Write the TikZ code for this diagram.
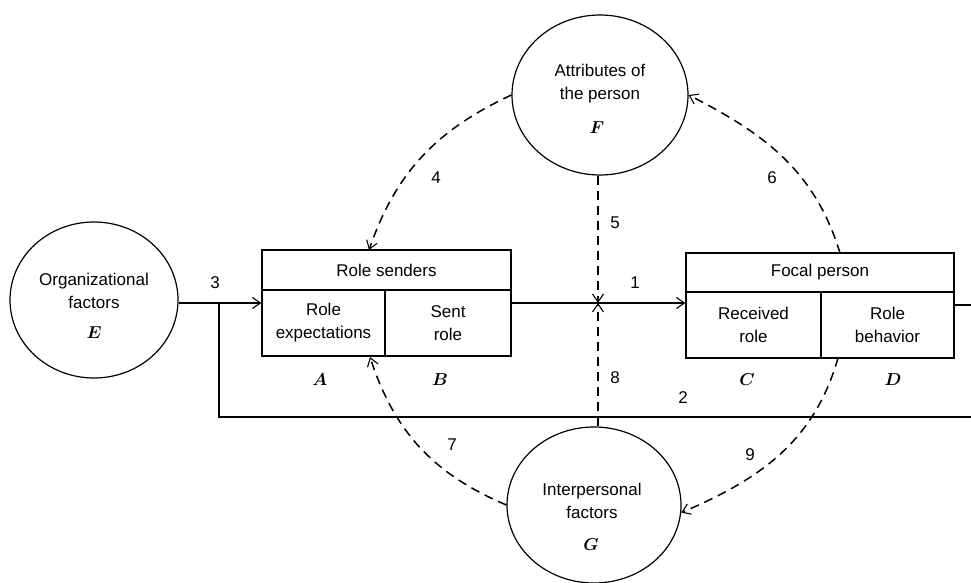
\documentclass[tikz,border=0pt]{standalone}
\usepackage{fontspec}
\setsansfont{Liberation Sans}
\usetikzlibrary{arrows.meta,shapes.geometric}
\begin{document}
\begin{tikzpicture}[x=1pt,y=1pt,
  every node/.style={font=\sffamily\fontsize{17}{23}\selectfont},
  bubble/.style={ellipse, draw, line width=1.2pt, inner sep=0pt},
  cell/.style={rectangle, draw, line width=1.2pt, inner sep=0pt, align=center},
  txt/.style={align=center, inner sep=0pt},
  letter/.style={inner sep=0pt, font=\fontsize{19}{20}\selectfont\boldmath},
  plain/.style={line width=1.4pt},
  arr/.style={line width=1.4pt, -{Straight Barb[length=8pt,width=11pt,line width=1.1pt]}},
  dsh/.style={arr, line width=1.5pt, dash pattern=on 9pt off 6pt},
]
\useasboundingbox (0,0) rectangle (971,-583);

% circles
\node[bubble, minimum width=168pt, minimum height=156pt] (E) at (94,-300) {};
\node[bubble, minimum width=176pt, minimum height=160pt] (F) at (600,-95) {};
\node[bubble, minimum width=174pt, minimum height=156pt] (G) at (594,-505) {};

\node[txt] (Et) at (94,-291) {Organizational\\factors};
\node[letter] (El) at (94,-333) {$E$};
\node[txt] (Ft) at (600,-84) {Attributes of\\the person};
\node[letter] (Fl) at (597,-128) {$F$};
\node[txt] (Gt) at (592,-501) {Interpersonal\\factors};
\node[letter] (Gl) at (591,-545) {$G$};

% role senders box
\node[cell, minimum width=249pt, minimum height=40pt] (rs) at (386.5,-270) {Role senders};
\node[cell, minimum width=123pt, minimum height=66pt] (ra) at (323.5,-323) {Role\\expectations};
\node[cell, minimum width=126pt, minimum height=66pt] (sb) at (448,-323) {Sent\\role};

% focal person box
\node[cell, minimum width=268pt, minimum height=39pt] (fp) at (820,-272.5) {Focal person};
\node[cell, minimum width=135pt, minimum height=66pt] (rr) at (753.5,-325) {Received\\role};
\node[cell, minimum width=133pt, minimum height=66pt] (rb) at (887.5,-325) {Role\\behavior};

% letters under boxes
\node[letter] (Al) at (320,-380) {$A$};
\node[letter] (Bl) at (440,-380) {$B$};
\node[letter] (Cl) at (747,-380) {$C$};
\node[letter] (Dl) at (893,-380) {$D$};

% coordinates
\coordinate (J) at (598,-303);
\coordinate (R1) at (971,-305);
\coordinate (R2) at (971,-417);
\coordinate (L2) at (219,-417);
\coordinate (L1) at (219,-303);
\coordinate (a4) at (369,-250);
\coordinate (a6) at (840,-253);
\coordinate (a7) at (370,-357);
\coordinate (a9) at (838,-358);

% solid connectors
\draw[arr] (E.east |- J) -- (ra.west |- J);
\draw[arr] (sb.east |- J) -- (rr.west |- J);
\draw[plain] (rb.east |- R1) -- (R1);
\draw[plain] (R2) -- (L2) -- (L1);

% dashed connectors
\draw[dsh] (J |- F.south) -- (J);
\draw[dsh] (J |- G.north) -- (J);
\draw[dsh] (F.west) to[out=205,in=71] (a4);
\draw[dsh] (a6) to[out=107,in=-27] (F.east);
\draw[dsh] (G.west) to[out=157,in=-72] (a7);
\draw[dsh] (a9) to[out=254,in=23] (G.-5);

% number labels
\node (n1) at (635,-283) {1};
\node (n2) at (683,-398) {2};
\node (n3) at (215,-283) {3};
\node (n4) at (436,-178) {4};
\node (n5) at (615,-223) {5};
\node (n6) at (772,-178) {6};
\node (n7) at (452,-445) {7};
\node (n8) at (615,-378) {8};
\node (n9) at (750,-455) {9};
\end{tikzpicture}
\end{document}
